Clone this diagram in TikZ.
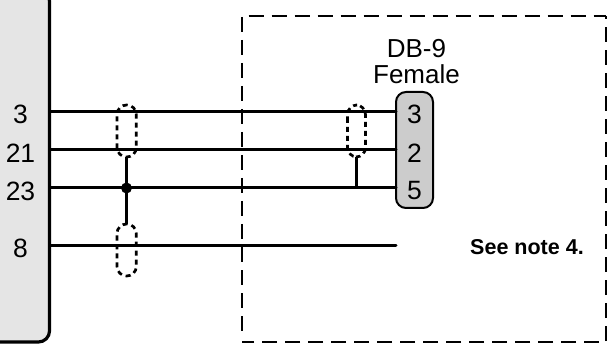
\documentclass[tikz,border=0pt]{standalone}
\usepackage{fontspec}
\setmainfont{Liberation Sans}
\definecolor{panelgrey}{HTML}{E5E5E5}
\definecolor{conngrey}{HTML}{CCCCCC}
\tikzset{
  x=1pt,y=-1pt,
  wire/.style={line width=3pt,line cap=round},
  framedash/.style={line width=2.2pt,dash pattern=on 15pt off 8pt},
  capsule/.style={draw,line width=2.7pt,dash pattern=on 5pt off 4pt,rounded corners=9.5pt},
  lab/.style={inner sep=0pt,font=\fontsize{26.5}{28}\selectfont,anchor=center},
}
\begin{document}
\begin{tikzpicture}
\useasboundingbox (0,0) rectangle (611,350);
\draw[fill=panelgrey,line width=3.2pt,rounded corners=11pt] (-10,-10) -- (49.5,-10) -- (49.5,342) -- (-10,342);
\coordinate (fa) at (248.5,16);
\coordinate (fb) at (606,16);
\coordinate (fc) at (606,341);
\coordinate (fd) at (599,342);
\coordinate (fe) at (242,342);
\coordinate (ff) at (242,17);
\coordinate (fg) at (242,335);
\draw[framedash] (fa) -- (fb);
\draw[framedash] (fc) -- (fb);
\draw[framedash] (fd) -- (fe);
\draw[framedash] (ff) -- (fg);
\node[draw,fill=conngrey,line width=2pt,rounded corners=10pt,minimum width=37pt,minimum height=116pt,inner sep=0pt] (conn) at (414.5,150) {};
\foreach \n/\y/\t in {a/111.5/3,b/150/21,c/188/23,d/245.5/8}{
  \node[lab] (l\n) at (20.5,\y+3) {\t};
  \coordinate (s\n) at (50,\y);
}
\foreach \n/\y/\t in {a/111.5/3,b/150/2,c/188/5}{
  \node[lab] (p\n) at (414.5,\y+3) {\t};
  \coordinate (e\n) at (396,\y);
}
\coordinate (ed) at (396,245.5);
\foreach \n in {a,b,c,d}{\draw[wire] (s\n) -- (e\n);}
\node[inner sep=0pt,align=center,font=\fontsize{26}{26}\selectfont] (title) at (416.5,62) {DB-9\\Female};
\node[inner sep=0pt,font=\bfseries\fontsize{21.5}{22}\selectfont] (note) at (527,247) {See note 4.};
\draw[capsule] (117,131) -- (117,105) -- (136.3,105) -- (136.3,157) -- (117,157) -- cycle;
\draw[capsule] (117,250) -- (117,224) -- (136.3,224) -- (136.3,276) -- (117,276) -- cycle;
\draw[capsule] (347.5,131) -- (347.5,105) -- (365.5,105) -- (365.5,157) -- (347.5,157) -- cycle;
\coordinate (t1) at (126.5,157);
\coordinate (t2) at (126.5,224);
\coordinate (t3) at (356.5,157);
\coordinate (t4) at (356.5,188);
\draw[line width=3.2pt] (t1) -- (t2);
\draw[line width=2.6pt] (t3) -- (t4);
\fill (126.5,188) circle (5.5pt);
\end{tikzpicture}
\end{document}
